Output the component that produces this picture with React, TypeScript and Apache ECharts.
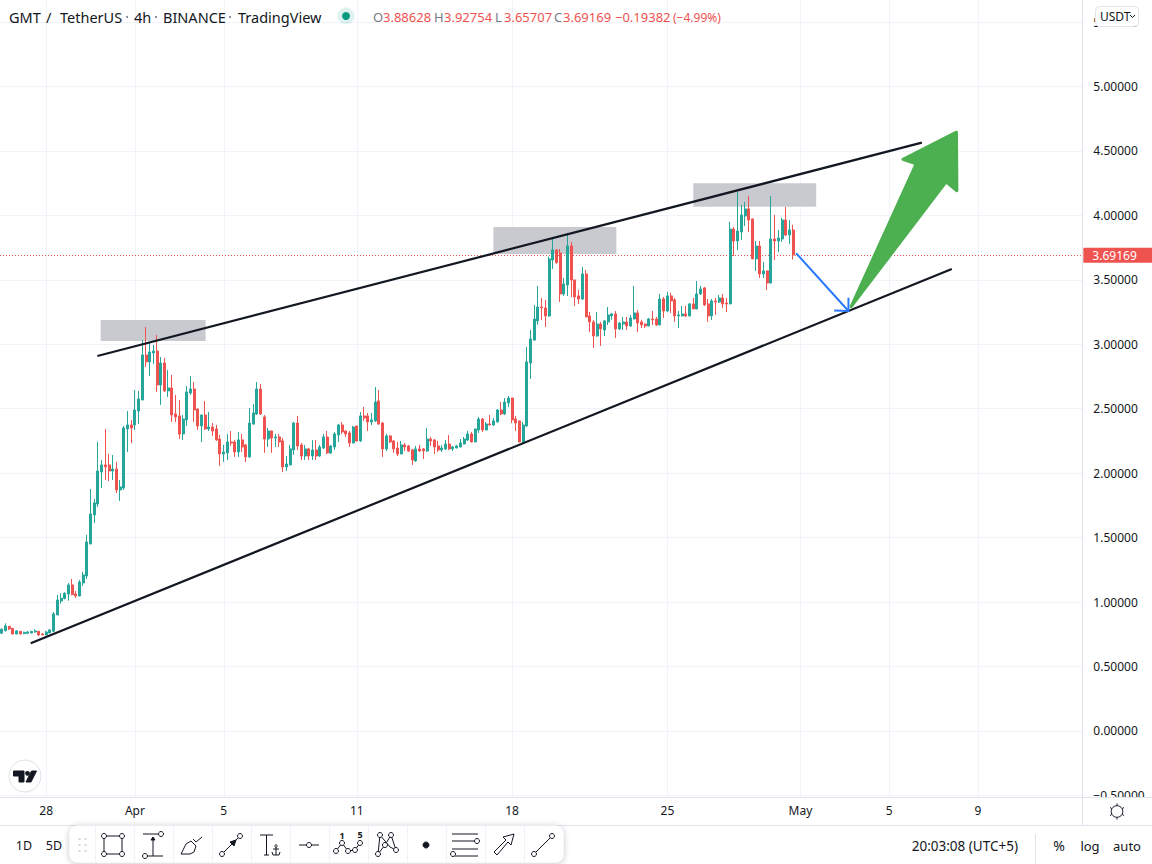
import React, { useEffect, useRef } from "react";
import * as echarts from "echarts";

// [open, close, low, high]
const candlesMarch = [
  [0.758,0.789,0.752,0.796],[0.778,0.815,0.771,0.835],[0.812,0.791,0.784,0.812],[0.796,0.752,0.750,0.798],
  [0.752,0.776,0.750,0.783],[0.773,0.752,0.750,0.775],[0.755,0.765,0.750,0.770],[0.758,0.768,0.752,0.776],
  [0.760,0.773,0.758,0.775],[0.768,0.776,0.763,0.789],[0.773,0.745,0.737,0.775],[0.752,0.745,0.745,0.760],
  [0.745,0.768,0.743,0.776],[0.760,0.784,0.758,0.791],[0.773,0.908,0.768,0.923],[0.900,1.016,0.898,1.055],
  [1.008,1.029,0.988,1.068],[1.027,1.068,1.021,1.076],[1.063,1.133,1.011,1.148],[1.133,1.058,1.052,1.179],
  [1.063,1.047,1.032,1.086],[1.047,1.156,1.045,1.171],[1.148,1.210,1.125,1.233],[1.202,1.466,1.179,1.521],
  [1.451,1.683,1.449,1.877],[1.676,1.769,1.614,1.800],[1.761,2.017,1.738,2.242],[2.009,2.064,1.885,2.102],
  [2.064,2.048,1.947,2.343],[2.064,2.017,1.939,2.149],[2.017,2.032,1.947,2.141],[2.032,1.870,1.846,2.087],
  [1.870,1.893,1.784,1.947],[1.885,2.351,1.870,2.366],[2.343,2.374,2.164,2.482],[2.374,2.351,2.234,2.413],
];
const candlesAprilA = [
  [2.374,2.490,2.335,2.645],[2.482,2.576,2.382,2.638],[2.568,2.917,2.566,3.033],[2.917,2.863,2.824,3.134],
  [2.863,2.940,2.754,3.010],[2.932,2.948,2.847,2.995],[2.948,2.684,2.630,3.072],[2.684,2.855,2.529,2.901],
  [2.855,2.638,2.630,2.894],[2.638,2.661,2.591,2.801],[2.661,2.451,2.397,2.762],[2.459,2.436,2.397,2.607],
  [2.444,2.304,2.265,2.568],[2.304,2.420,2.258,2.451],[2.413,2.630,2.366,2.676],[2.622,2.653,2.607,2.754],
  [2.653,2.490,2.397,2.707],[2.498,2.366,2.335,2.500],[2.366,2.451,2.242,2.456],[2.451,2.343,2.335,2.560],
  [2.343,2.358,2.327,2.475],[2.358,2.327,2.289,2.389],[2.343,2.258,2.250,2.374],[2.265,2.149,2.056,2.296],
  [2.149,2.164,2.087,2.219],[2.157,2.242,2.102,2.304],[2.242,2.234,2.211,2.327],[2.242,2.164,2.126,2.258],
  [2.164,2.258,2.126,2.320],[2.258,2.203,2.164,2.304],[2.219,2.126,2.087,2.226],[2.126,2.389,2.118,2.506],
  [2.382,2.467,2.374,2.537],[2.459,2.653,2.451,2.707],[2.653,2.459,2.451,2.692],[2.436,2.265,2.157,2.451],
  [2.265,2.327,2.203,2.351],[2.327,2.273,2.157,2.330],[2.273,2.281,2.203,2.304],[2.281,2.242,2.203,2.304],
];
const candlesAprilB = [
  [2.250,2.048,2.009,2.273],[2.048,2.071,2.017,2.133],[2.064,2.188,2.060,2.219],[2.180,2.389,2.141,2.397],
  [2.389,2.211,2.180,2.444],[2.219,2.133,2.102,2.234],[2.133,2.188,2.102,2.219],[2.188,2.133,2.102,2.196],
  [2.133,2.180,2.102,2.257],[2.180,2.133,2.102,2.257],[2.133,2.203,2.126,2.219],[2.195,2.281,2.188,2.304],
  [2.281,2.157,2.149,2.327],[2.157,2.211,2.149,2.219],[2.203,2.304,2.180,2.320],[2.296,2.374,2.242,2.382],
  [2.374,2.320,2.304,2.397],[2.327,2.304,2.281,2.330],[2.312,2.234,2.203,2.327],[2.234,2.358,2.232,2.366],
  [2.366,2.250,2.245,2.368],[2.250,2.444,2.242,2.475],[2.444,2.428,2.405,2.514],[2.444,2.397,2.327,2.467],
  [2.397,2.413,2.374,2.467],[2.405,2.552,2.397,2.669],[2.560,2.382,2.374,2.645],[2.389,2.188,2.126,2.397],
  [2.188,2.289,2.172,2.304],[2.289,2.242,2.234,2.296],[2.250,2.188,2.157,2.257],[2.195,2.149,2.133,2.242],
  [2.149,2.219,2.147,2.250],[2.219,2.203,2.172,2.234],[2.211,2.172,2.165,2.219],[2.180,2.102,2.064,2.188],
  [2.095,2.188,2.087,2.211],[2.188,2.172,2.165,2.219],[2.188,2.172,2.110,2.195],[2.172,2.265,2.165,2.351],
];
const candlesAprilC = [
  [2.265,2.250,2.211,2.281],[2.257,2.203,2.149,2.265],[2.211,2.180,2.165,2.250],[2.180,2.195,2.165,2.219],
  [2.188,2.226,2.180,2.257],[2.226,2.188,2.180,2.296],[2.188,2.203,2.172,2.211],[2.195,2.211,2.193,2.219],
  [2.203,2.234,2.200,2.265],[2.226,2.265,2.224,2.281],[2.257,2.304,2.250,2.327],[2.304,2.242,2.240,2.320],
  [2.242,2.343,2.240,2.345],[2.335,2.420,2.312,2.436],[2.420,2.335,2.320,2.428],[2.335,2.382,2.333,2.397],
  [2.382,2.374,2.372,2.451],[2.374,2.405,2.366,2.428],[2.397,2.490,2.395,2.498],[2.490,2.459,2.451,2.552],
  [2.459,2.552,2.451,2.583],[2.545,2.583,2.514,2.599],[2.583,2.413,2.389,2.585],[2.420,2.389,2.327,2.444],
  [2.405,2.242,2.240,2.407],[2.242,2.374,2.236,2.397],[2.366,2.863,2.360,2.979],[2.855,3.041,2.731,3.111],
  [3.033,3.196,3.026,3.305],[3.181,3.289,3.150,3.452],[3.289,3.282,3.189,3.359],[3.282,3.220,3.134,3.344],
  [3.220,3.662,3.212,3.680],[3.654,3.732,3.584,3.832],[3.732,3.633,3.625,3.735],[3.708,3.390,3.328,3.739],
  [3.390,3.468,3.375,3.514],[3.460,3.763,3.375,3.864],[3.763,3.499,3.367,3.794],[3.499,3.367,3.297,3.500],
];
const candlesAprilD = [
  [3.375,3.351,3.313,3.421],[3.351,3.545,3.344,3.600],[3.545,3.212,3.210,3.576],[3.220,3.173,3.095,3.251],
  [3.173,3.064,2.971,3.189],[3.064,3.157,3.060,3.251],[3.157,3.119,2.987,3.173],[3.111,3.181,3.064,3.189],
  [3.173,3.227,3.150,3.289],[3.220,3.235,3.189,3.243],[3.235,3.119,3.049,3.258],[3.119,3.165,3.111,3.173],
  [3.157,3.173,3.111,3.212],[3.173,3.142,3.111,3.212],[3.142,3.204,3.134,3.227],[3.196,3.243,3.194,3.452],
  [3.243,3.165,3.095,3.266],[3.173,3.150,3.126,3.190],[3.157,3.142,3.126,3.160],[3.142,3.196,3.140,3.204],
  [3.196,3.189,3.150,3.258],[3.196,3.150,3.142,3.212],[3.150,3.351,3.148,3.390],[3.351,3.258,3.204,3.367],
  [3.258,3.375,3.250,3.406],[3.375,3.336,3.243,3.398],[3.344,3.220,3.173,3.359],[3.220,3.227,3.126,3.258],
  [3.220,3.235,3.215,3.297],[3.235,3.220,3.212,3.297],[3.220,3.313,3.215,3.320],[3.313,3.274,3.272,3.359],
  [3.274,3.390,3.272,3.491],[3.390,3.429,3.382,3.452],[3.437,3.305,3.297,3.445],[3.313,3.220,3.173,3.351],
  [3.220,3.336,3.189,3.351],[3.336,3.328,3.227,3.359],[3.328,3.359,3.320,3.382],[3.359,3.313,3.282,3.390],
];
const candlesLate = [
  [3.320,3.313,3.250,3.359],[3.313,3.894,3.310,3.949],[3.894,3.801,3.685,3.910],[3.801,3.879,3.731,4.181],
  [3.871,4.003,3.809,4.081],[3.995,4.050,3.918,4.104],[4.050,3.964,3.871,4.150],[3.972,3.662,3.660,3.975],
  [3.662,3.762,3.569,3.801],[3.762,3.545,3.514,3.801],[3.545,3.569,3.514,3.638],[3.569,3.475,3.421,3.572],
  [3.475,3.817,3.470,4.150],[3.817,3.801,3.654,4.003],[3.801,3.825,3.716,3.887],[3.817,3.964,3.794,3.980],
  [3.964,3.848,3.840,4.065],[3.848,3.887,3.778,3.964],[3.88628,3.69169,3.65707,3.92754],
];
const candles = [...candlesMarch, ...candlesAprilA, ...candlesAprilB, ...candlesAprilC, ...candlesAprilD, ...candlesLate];

const BANDS = 293;
const categories: string[] = [];
for (let i = 0; i < BANDS; i++) {
  const t = new Date(Date.UTC(2022, 2, 26, i * 4));
  categories.push(t.toISOString().slice(0, 13));
}
const timeTickIndexes = [12, 36, 60, 96, 138, 180, 216, 240, 264];
const timeTickLabels = ["28", "Apr", "5", "11", "18", "25", "May", "5", "9"];

const lastPrice = 3.69169;
const priceTop = 5.671;
const priceBottom = -0.512;

// Drawings, x in days after 28 March, y in price
const trendLines = [
  [2.306, 2.909, 39.47, 4.564],
  [-0.698, 0.68, 40.82, 3.584],
];
const zoneBoxes = [
  [2.455, 3.189, 7.185, 3.026],
  [20.158, 3.91, 25.7, 3.701],
  [29.167, 4.249, 34.707, 4.067],
];
const blueArrowShaft = [[33.806, 3.706], [36.162, 3.258]];
const blueArrowHead = [[36.162, 3.361], [36.162, 3.258], [35.518, 3.261]];
const greenArrow = [
  [36.284, 3.292], [39.212, 4.399], [38.62, 4.435], [41.03, 4.645], [41.05, 4.19], [40.563, 4.259],
];

const headerParts = [["GMT", 9], ["/", 46], ["TetherUS", 60], ["4h", 134], ["BINANCE", 163], ["TradingView", 238]] as const;
const headerDots = [127, 156, 230];
const ohlcLetters = [["O", 373], ["H", 434], ["L", 495], ["C", 554]] as const;
const ohlcValues = [["3.88628", 383, 13], ["3.92754", 444, 13], ["3.65707", 504, 13], ["3.69169", 563, 13], ["−0.19382", 615, 13], ["(−4.99%)", 673, 12]] as const;

const FONT = "'Noto Sans', Roboto, sans-serif";
const INK = "#131722";
const RULE = "#e0e3eb";
const GRID = "#f0f3fa";
const UP = "#26a69a";
const DOWN = "#ef5350";

function txt(text: string, x: number, y: number, fill = INK, fontSize = 13, align = "left", extra: any = {}) {
  return { type: "text", silent: true, z: 30, x, y, style: { text, fill, fontSize, fontFamily: FONT, align, verticalAlign: "middle", ...extra } };
}
function ln(x1: number, y1: number, x2: number, y2: number, stroke = INK, lineWidth = 1, z = 30) {
  return { type: "line", silent: true, z, shape: { x1, y1, x2, y2 }, style: { stroke, lineWidth } };
}
function dot(cx: number, cy: number, r = 2.5, fill = "#fff", stroke: string | undefined = INK) {
  return { type: "circle", silent: true, z: 31, shape: { cx, cy, r }, style: { fill, stroke, lineWidth: 1 } };
}
function poly(points: number[][], fill: string, stroke: string | undefined = INK, closed = true) {
  return { type: closed ? "polygon" : "polyline", silent: true, z: 30, shape: { points }, style: { fill, stroke, lineWidth: 1 } };
}

function toolbarIcons(): any[] {
  const cy = 845;
  const c = [113, 153, 192, 231, 270, 309, 348, 387, 426, 465, 504, 543];
  const out: any[] = [];
  // selection box
  let x = c[0];
  out.push({ type: "rect", silent: true, z: 30, shape: { x: x - 9, y: cy - 9, width: 18, height: 18 }, style: { fill: "none", stroke: INK, lineWidth: 1 } });
  [[-9, -9], [9, -9], [-9, 9], [9, 9]].forEach(([a, b]) => out.push(dot(x + a, cy + b)));
  // price range
  x = c[1];
  out.push(ln(x - 10, cy - 11, x + 6, cy - 11), ln(x - 6, cy + 11, x + 10, cy + 11), ln(x, cy - 8, x, cy + 11));
  out.push(poly([[x - 2, cy - 5], [x, cy - 8], [x + 2, cy - 5]], INK), dot(x + 8, cy - 11), dot(x - 8, cy + 11));
  // brush
  x = c[2];
  out.push(poly([[x - 11, cy + 9], [x - 6, cy - 1], [x - 1, cy - 4], [x + 4, cy + 1], [x + 2, cy + 7], [x - 2, cy + 9]], "#fff"));
  out.push(poly([[x + 1, cy - 6], [x + 4, cy - 3], [x + 10, cy - 8]], "none", INK, false));
  // arrow marker
  x = c[3];
  out.push(ln(x - 9, cy + 9, x + 9, cy - 9), poly([[x + 5, cy - 5], [x - 1, cy - 3], [x + 3, cy + 1]], INK), dot(x - 9, cy + 9), dot(x + 9, cy - 9));
  // anchored text
  x = c[4];
  out.push(ln(x - 10, cy - 10, x + 3, cy - 10), ln(x - 3.5, cy - 10, x - 3.5, cy + 10), ln(x - 6, cy + 10, x - 1, cy + 10));
  out.push(dot(x + 6, cy + 1, 1.2), ln(x + 6, cy + 2, x + 6, cy + 10), ln(x + 3, cy + 4, x + 9, cy + 4));
  out.push(poly([[x + 2, cy + 7], [x + 3, cy + 10], [x + 9, cy + 10], [x + 10, cy + 7]], "none", INK, false));
  // horizontal ray
  x = c[5];
  out.push(ln(x - 10, cy, x + 10, cy), dot(x, cy));
  // wave
  x = c[6];
  const wave = [[-12, 6], [-6, -2], [0, 6], [6, 6], [12, -2]].map(([a, b]) => [x + a, cy + b]);
  wave[3] = [x + 7, cy + 5];
  out.push(poly(wave, "none", INK, false));
  wave.forEach(([a, b]) => out.push(dot(a, b)));
  out.push(txt("1", x - 6, cy - 10, INK, 9, "center", { fontWeight: "bold" }), txt("5", x + 12, cy - 11, INK, 9, "center", { fontWeight: "bold" }));
  // pitchfork
  x = c[7];
  const fork = [[-7, -10], [-2, 0], [4, -10], [9, 5], [-9, 9]].map(([a, b]) => [x + a, cy + b]);
  out.push(poly([fork[4], fork[0], [x + 3, cy + 2], fork[3], fork[2], fork[1], fork[4]], "none", INK, false));
  fork.forEach(([a, b]) => out.push(dot(a, b)));
  // dot
  out.push(dot(c[8], cy, 3, INK, INK));
  // parallel lines
  x = c[9];
  out.push(ln(x - 13, cy - 11, x + 13, cy - 11), ln(x - 13, cy - 4, x + 10, cy - 4), ln(x - 13, cy + 4, x + 13, cy + 4), ln(x - 10, cy + 11, x + 13, cy + 11));
  out.push(dot(x + 12, cy - 4), dot(x - 12, cy + 9));
  // arrow tool
  x = c[10];
  out.push(poly([[x - 10, cy + 7], [x + 2, cy - 5], [x - 1, cy - 8], [x + 10, cy - 11], [x + 7, cy], [x + 4, cy - 3], [x - 7, cy + 10]], "#fff"));
  // trend line
  x = c[11];
  out.push(ln(x - 9, cy + 9, x + 9, cy - 9), dot(x - 9, cy + 9), dot(x + 9, cy - 9));
  return out;
}

function chromeGraphics(): any[] {
  const g: any[] = [];
  // covers below and right of the plot
  g.push({ type: "rect", silent: true, z: 20, shape: { x: 1083, y: 797.5, width: 69, height: 28 }, style: { fill: "#fff" } });
  g.push({ type: "rect", silent: true, z: 20, shape: { x: 0, y: 825, width: 1152, height: 39 }, style: { fill: "#fff" } });
  g.push(ln(0, 797.5, 1152, 797.5, RULE, 1, 25), ln(0, 825.5, 1152, 825.5, RULE, 1, 25), ln(1082.5, 0, 1082.5, 826, RULE, 1, 25));
  // header
  headerParts.forEach(([t, x]) => g.push(txt(t, x, 17, INK, 14.5)));
  headerDots.forEach((cx) => g.push({ type: "circle", silent: true, z: 30, shape: { cx, cy: 17, r: 1 }, style: { fill: "#787b86" } }));
  g.push({ type: "circle", silent: true, z: 30, shape: { cx: 346, cy: 16, r: 8.5 }, style: { fill: "rgba(8,153,129,0.13)" } });
  g.push({ type: "circle", silent: true, z: 30, shape: { cx: 346, cy: 16, r: 4 }, style: { fill: "#089981" } });
  ohlcLetters.forEach(([t, x]) => g.push(txt(t, x, 17, "#787b86", 13)));
  ohlcValues.forEach(([t, x, s]) => g.push(txt(t, x, 17, DOWN, s)));
  // currency button
  g.push({ type: "rect", silent: true, z: 30, shape: { x: 1095.5, y: 6.5, width: 43, height: 20, r: 4 }, style: { fill: "#fff", stroke: RULE, lineWidth: 1 } });
  g.push(txt("USDT", 1100, 16.5, INK, 12));
  g.push(poly([[1130, 15], [1132.5, 17.5], [1135, 15]], "none", INK, false));
  // logo
  g.push({ type: "circle", silent: true, z: 30, shape: { cx: 25, cy: 776, r: 16 }, style: { fill: "#fff", stroke: RULE, lineWidth: 1 } });
  g.push(poly([[13.5, 771], [24, 771], [24, 782], [19, 782], [19, 776], [13.5, 776]], INK, INK));
  g.push({ type: "circle", silent: true, z: 31, shape: { cx: 27.5, cy: 773.3, r: 2.4 }, style: { fill: INK } });
  g.push(poly([[31.5, 771], [36.5, 771], [31, 782], [26, 782]], INK, INK));
  // settings gear
  g.push({ type: "circle", silent: true, z: 30, shape: { cx: 1117, cy: 811.5, r: 5.8 }, style: { fill: "#fff", stroke: INK, lineWidth: 1 } });
  [[0, -8], [0, 8], [-7, -4], [7, -4], [-7, 4], [7, 4]].forEach(([a, b]) =>
    g.push(ln(1117 + a * 0.75, 811.5 + b * 0.75, 1117 + a, 811.5 + b)));
  // footer
  g.push(txt("1D", 24, 845, INK, 12.5, "center"), txt("5D", 54, 845, INK, 12.5, "center"));
  g.push({ type: "rect", silent: true, z: 28, shape: { x: 69.5, y: 825.5, width: 494, height: 37, r: 8 }, style: { fill: "#fff", shadowBlur: 6, shadowColor: "rgba(30,34,45,0.25)", shadowOffsetY: 1 } });
  [95, 134, 173, 212, 251, 290, 329, 368, 407, 446, 485, 524].forEach((x) => g.push(ln(x + 0.5, 826, x + 0.5, 862, GRID, 1, 29)));
  [78.5, 84.5].forEach((x) => [839, 845, 851].forEach((y) =>
    g.push({ type: "rect", silent: true, z: 30, shape: { x: x + 0, y: y - 1, width: 2, height: 2 }, style: { fill: "#d1d4dc" } })));
  g.push(...toolbarIcons());
  g.push(txt("20:03:08 (UTC+5)", 1018, 845.5, INK, 13.5, "right"));
  g.push(ln(1035.5, 834, 1035.5, 864, RULE, 1, 30));
  g.push(txt("%", 1059, 845.5, INK, 14, "center"), txt("log", 1090, 845.5, INK, 13, "center"), txt("auto", 1127, 845.5, INK, 13, "center"));
  return g;
}

export default function App() {
  const ref = useRef<HTMLDivElement>(null);
  useEffect(() => {
    const chart = echarts.init(ref.current as HTMLDivElement, undefined, { renderer: "svg" });
    const isTick = (index: number) => timeTickIndexes.includes(index);
    chart.setOption({
      animation: false,
      backgroundColor: "#fff",
      grid: { left: -0.75, top: 22, width: 1084.1, height: 773.4, containLabel: false },
      xAxis: [
        {
          type: "category",
          data: categories,
          axisLine: { show: false },
          axisTick: { show: false },
          splitLine: { show: false },
          axisLabel: {
            interval: (index: number) => isTick(index),
            formatter: (_v: string, index: number) => timeTickLabels[timeTickIndexes.indexOf(index)] ?? "",
            color: INK,
            fontSize: 12,
            fontFamily: FONT,
            margin: 9,
          },
        },
        { type: "value", min: -2.08333, max: 46.75, show: false },
      ],
      yAxis: {
        type: "value",
        position: "right",
        min: -0.5,
        max: 5.5,
        interval: 0.5,
        axisLine: { show: false },
        axisTick: { show: false },
        splitLine: { lineStyle: { color: GRID, width: 1 } },
        axisLabel: {
          color: INK,
          fontSize: 12,
          fontFamily: FONT,
          margin: 10,
          formatter: (v: number) => (v < 0 ? "−" + Math.abs(v).toFixed(5) : v.toFixed(5)),
        },
      },
      series: [
        {
          name: "time grid",
          type: "custom",
          z: 1,
          silent: true,
          data: timeTickIndexes.map((i) => [i, 0]),
          renderItem: (_p: any, api: any) => {
            const top = api.coord([api.value(0), priceTop]);
            const bottom = api.coord([api.value(0), priceBottom]);
            const x = Math.round(top[0]) + 0.5;
            return { type: "line", shape: { x1: x, y1: top[1], x2: x, y2: bottom[1] }, style: { stroke: GRID, lineWidth: 1 } };
          },
        },
        {
          name: "zones",
          type: "custom",
          xAxisIndex: 1,
          z: 2,
          silent: true,
          data: zoneBoxes,
          renderItem: (_p: any, api: any) => {
            const a = api.coord([api.value(0), api.value(1)]);
            const b = api.coord([api.value(2), api.value(3)]);
            return { type: "rect", shape: { x: a[0], y: a[1], width: b[0] - a[0], height: b[1] - a[1] }, style: { fill: "#c9cad0" } };
          },
        },
        {
          name: "GMT/USDT",
          type: "candlestick",
          z: 3,
          barWidth: 2.5,
          silent: true,
          data: candles,
          itemStyle: { color: UP, color0: DOWN, borderColor: UP, borderColor0: DOWN, borderWidth: 1 },
          markLine: {
            silent: true,
            symbol: "none",
            z: 3,
            lineStyle: { type: [1, 2], color: DOWN, width: 1 },
            label: {
              position: "end",
              distance: 0,
              formatter: lastPrice.toFixed(5),
              color: "#fff",
              backgroundColor: DOWN,
              padding: [2, 18, 1, 9],
              fontSize: 12,
              fontFamily: FONT,
            },
            data: [{ yAxis: lastPrice }],
          },
        },
        {
          name: "trend lines",
          type: "custom",
          xAxisIndex: 1,
          z: 4,
          silent: true,
          data: trendLines,
          renderItem: (_p: any, api: any) => {
            const a = api.coord([api.value(0), api.value(1)]);
            const b = api.coord([api.value(2), api.value(3)]);
            return { type: "line", shape: { x1: a[0], y1: a[1], x2: b[0], y2: b[1] }, style: { stroke: INK, lineWidth: 2.2 } };
          },
        },
        {
          name: "green arrow",
          type: "custom",
          xAxisIndex: 1,
          z: 5,
          silent: true,
          data: [greenArrow[0]],
          renderItem: (_p: any, api: any) => ({
            type: "polygon",
            shape: { points: greenArrow.map((p) => api.coord(p)) },
            style: { fill: "#4caf50", stroke: "#4caf50", lineWidth: 3, lineJoin: "round" },
          }),
        },
        {
          name: "blue arrow",
          type: "custom",
          xAxisIndex: 1,
          z: 6,
          silent: true,
          data: [blueArrowShaft[0]],
          renderItem: (_p: any, api: any) => ({
            type: "group",
            children: [
              { type: "polyline", shape: { points: blueArrowShaft.map((p) => api.coord(p)) }, style: { fill: "none", stroke: "#2979ff", lineWidth: 2 } },
              { type: "polyline", shape: { points: blueArrowHead.map((p) => api.coord(p)) }, style: { fill: "none", stroke: "#2979ff", lineWidth: 2 } },
            ],
          }),
        },
      ],
      graphic: chromeGraphics(),
    });
    return () => chart.dispose();
  }, []);
  return <div ref={ref} style={{ position: "absolute", left: 0, top: 0, width: 1152, height: 864 }} />;
}
